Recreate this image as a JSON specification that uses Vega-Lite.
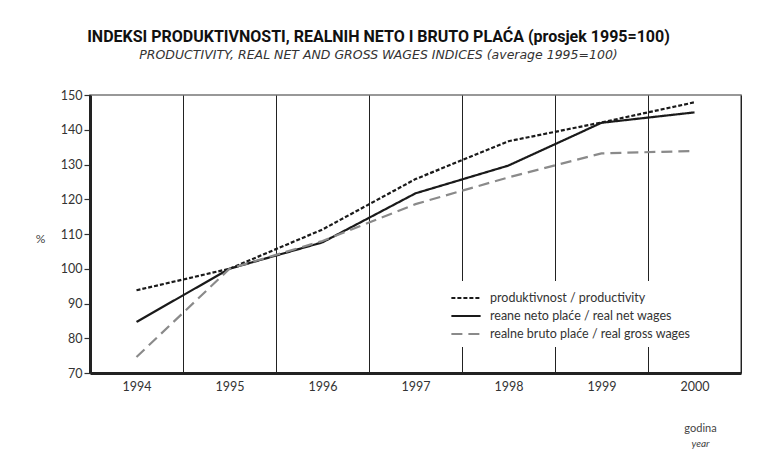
{
  "$schema": "https://vega.github.io/schema/vega-lite/v6.json",
  "width": 651,
  "height": 278,
  "autosize": {"type": "none"},
  "padding": {"left": 90, "top": 95, "right": 28, "bottom": 86},
  "background": "white",
  "config": {
    "font": "Lato",
    "view": {"stroke": "#777", "strokeWidth": 1.5},
    "axis": {"labelFont": "Lato", "titleFont": "Lato", "labelColor": "#333", "titleColor": "#444"}
  },
  "title": {
    "text": "INDEKSI PRODUKTIVNOSTI, REALNIH NETO I BRUTO PLAĆA (prosjek 1995=100)",
    "subtitle": "PRODUCTIVITY, REAL NET AND GROSS WAGES INDICES (average 1995=100)",
    "anchor": "middle",
    "dx": -37,
    "offset": 28,
    "font": "Roboto",
    "fontSize": 16,
    "fontWeight": "bold",
    "color": "#111",
    "subtitleFont": "DejaVu Sans",
    "subtitleFontSize": 12.5,
    "subtitleFontStyle": "italic",
    "subtitleColor": "#333",
    "subtitlePadding": 4
  },
  "data": {
    "values": [
      {"year": "1994", "series": "produktivnost / productivity", "value": 93.8},
      {"year": "1995", "series": "produktivnost / productivity", "value": 100},
      {"year": "1996", "series": "produktivnost / productivity", "value": 111.3},
      {"year": "1997", "series": "produktivnost / productivity", "value": 125.8},
      {"year": "1998", "series": "produktivnost / productivity", "value": 136.7},
      {"year": "1999", "series": "produktivnost / productivity", "value": 142.1},
      {"year": "2000", "series": "produktivnost / productivity", "value": 147.9},
      {"year": "1994", "series": "reane neto plaće / real net wages", "value": 84.7},
      {"year": "1995", "series": "reane neto plaće / real net wages", "value": 100},
      {"year": "1996", "series": "reane neto plaće / real net wages", "value": 107.6},
      {"year": "1997", "series": "reane neto plaće / real net wages", "value": 121.7},
      {"year": "1998", "series": "reane neto plaće / real net wages", "value": 129.7},
      {"year": "1999", "series": "reane neto plaće / real net wages", "value": 142.0},
      {"year": "2000", "series": "reane neto plaće / real net wages", "value": 145.0},
      {"year": "1994", "series": "realne bruto plaće / real gross wages", "value": 74.6},
      {"year": "1995", "series": "realne bruto plaće / real gross wages", "value": 100},
      {"year": "1996", "series": "realne bruto plaće / real gross wages", "value": 108.0},
      {"year": "1997", "series": "realne bruto plaće / real gross wages", "value": 118.6},
      {"year": "1998", "series": "realne bruto plaće / real gross wages", "value": 126.3},
      {"year": "1999", "series": "realne bruto plaće / real gross wages", "value": 133.2},
      {"year": "2000", "series": "realne bruto plaće / real gross wages", "value": 133.9}
    ]
  },
  "resolve": {"axis": {"x": "independent"}},
  "layer": [
    {
      "mark": {"type": "line", "strokeWidth": 2.2},
      "encoding": {
        "x": {
          "field": "year", "type": "ordinal",
          "scale": {"type": "band", "paddingInner": 0, "paddingOuter": 0},
          "axis": {
            "title": "godina",
            "titleX": 610, "titleY": 58, "titleAlign": "center", "titleBaseline": "alphabetic",
            "titleFontSize": 11, "titleFontWeight": "normal",
            "labelAngle": 0, "labelFontSize": 12.5, "labelPadding": 7,
            "ticks": false, "tickBand": "extent",
            "grid": true, "gridColor": "#222", "gridWidth": 1, "gridOpacity": 1,
            "domainColor": "#222", "domainWidth": 3
          }
        },
        "y": {
          "field": "value", "type": "quantitative",
          "scale": {"domain": [70, 150], "nice": false, "zero": false},
          "axis": {
            "values": [70, 80, 90, 100, 110, 120, 130, 140, 150],
            "title": "%", "titleAngle": 0, "titleX": -50, "titleY": 143,
            "titleAlign": "center", "titleBaseline": "middle",
            "titleFontSize": 12, "titleFontWeight": "normal",
            "labelFontSize": 12.5, "labelPadding": 2,
            "tickSize": 6, "tickColor": "#333", "tickWidth": 1.2,
            "grid": false, "domainColor": "#222", "domainWidth": 3, "zindex": 1
          }
        },
        "color": {
          "field": "series", "type": "nominal",
          "scale": {
            "domain": ["produktivnost / productivity", "reane neto plaće / real net wages", "realne bruto plaće / real gross wages"],
            "range": ["#1a1a1a", "#1a1a1a", "#8a8a8a"]
          },
          "legend": {
            "title": null, "orient": "none", "legendX": 359, "legendY": 186,
            "fillColor": "white", "padding": 6, "rowPadding": -1,
            "symbolType": "M-1.5,0H1.5", "symbolSize": 380, "symbolStrokeWidth": 2.2,
            "labelFontSize": 12.5, "labelColor": "#333", "labelOffset": 13, "labelLimit": 300
          }
        },
        "strokeDash": {
          "field": "series", "type": "nominal",
          "scale": {
            "domain": ["produktivnost / productivity", "reane neto plaće / real net wages", "realne bruto plaće / real gross wages"],
            "range": [[4, 2], [1, 0], [11, 6]]
          },
          "legend": {
            "title": null, "orient": "none", "legendX": 359, "legendY": 186,
            "fillColor": "white", "padding": 6, "rowPadding": -1,
            "symbolType": "M-1.5,0H1.5", "symbolSize": 380, "symbolStrokeWidth": 2.2,
            "labelFontSize": 12.5, "labelColor": "#333", "labelOffset": 13, "labelLimit": 300
          }
        }
      }
    },
    {
      "mark": {"type": "point", "opacity": 0},
      "encoding": {
        "x": {
          "field": "year", "type": "ordinal",
          "axis": {
            "orient": "top",
            "title": "year", "titleX": 610, "titleY": 351, "titleAlign": "center",
            "titleBaseline": "alphabetic",
            "titleFontSize": 10, "titleFontStyle": "italic", "titleFontWeight": "normal",
            "labels": false, "ticks": false, "domain": false, "grid": false
          }
        }
      }
    }
  ]
}
